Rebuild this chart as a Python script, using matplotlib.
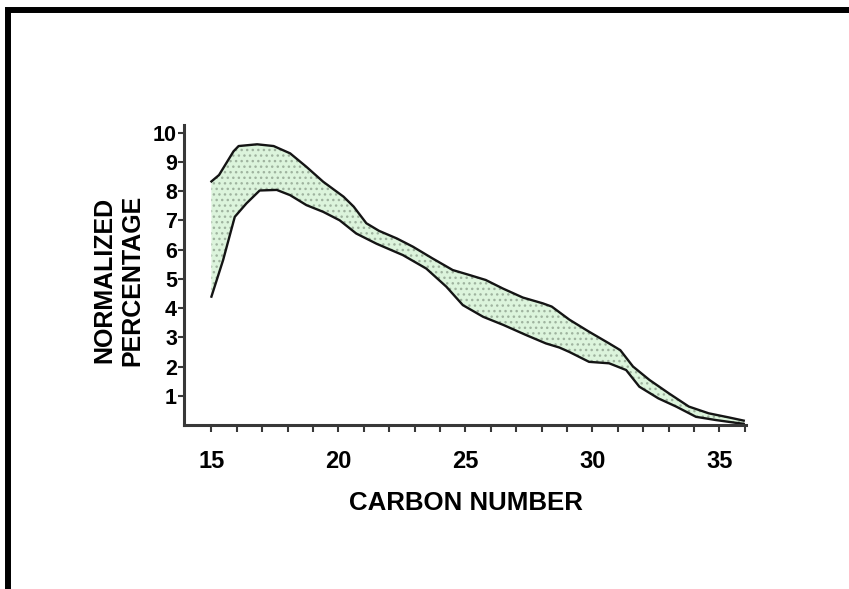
import matplotlib as mpl
mpl.use('Agg')
import matplotlib.pyplot as plt
from matplotlib.patches import Rectangle
import numpy as np

# upper edge of the band (carbon number, normalized %)
UPPER_X = [15.0, 15.3, 15.87, 16.07, 16.8, 17.45, 18.1, 18.74, 19.4, 20.2, 20.6,
           21.1, 21.6, 22.3, 22.93, 23.7, 24.5, 25.16, 25.8, 26.47, 27.26, 28.05,
           28.4, 29.1, 29.87, 30.66, 31.1, 31.6, 32.25, 33.0, 33.8, 34.58, 35.37, 35.96]
UPPER_Y = [8.33, 8.55, 9.36, 9.54, 9.6, 9.54, 9.29, 8.83, 8.32, 7.81, 7.47,
           6.9, 6.64, 6.38, 6.1, 5.7, 5.3, 5.13, 4.96, 4.67, 4.36, 4.16,
           4.05, 3.6, 3.19, 2.79, 2.56, 2.0, 1.54, 1.09, 0.63, 0.4, 0.26, 0.15]

# lower edge of the band
LOWER_X = [15.0, 15.46, 15.92, 16.38, 16.9, 17.57, 18.1, 18.74, 19.4, 20.05, 20.7,
           21.5, 22.54, 23.46, 24.25, 24.9, 25.7, 26.5, 27.38, 28.17, 28.7, 29.09,
           29.87, 30.66, 31.33, 31.85, 32.6, 33.3, 34.08, 34.86, 35.6, 35.96]
LOWER_Y = [4.39, 5.64, 7.12, 7.58, 8.02, 8.04, 7.86, 7.52, 7.29, 7.0, 6.55,
           6.2, 5.81, 5.35, 4.73, 4.1, 3.7, 3.42, 3.08, 2.79, 2.65, 2.5,
           2.16, 2.11, 1.88, 1.31, 0.91, 0.63, 0.28, 0.17, 0.08, 0.04]

X_TICKS = list(range(15, 37))
X_LABELS = [15, 20, 25, 30, 35]
Y_TICKS = list(range(1, 11))

X_LABEL = "CARBON NUMBER"
Y_LABEL = "NORMALIZED\nPERCENTAGE"

FONT = 'Liberation Sans'
FILL_COLOR = '#dcf4dc'
DOT_COLOR = '#9fb39f'
EDGE_COLOR = '#141414'
AXIS_COLOR = '#383838'

mpl.rcParams['hatch.linewidth'] = 1.0

fig = plt.figure(figsize=(8.49, 5.89), dpi=100)
ax = fig.add_axes([184 / 849, 164 / 589, 562 / 849, 300 / 589])

poly_x = np.concatenate([UPPER_X, LOWER_X[::-1]])
poly_y = np.concatenate([UPPER_Y, LOWER_Y[::-1]])
ax.fill(poly_x, poly_y, facecolor=FILL_COLOR, edgecolor=DOT_COLOR,
        hatch='...', linewidth=0)
ax.plot(UPPER_X, UPPER_Y, color=EDGE_COLOR, linewidth=1.7)
ax.plot(LOWER_X, LOWER_Y, color=EDGE_COLOR, linewidth=1.7)

ax.set_xlim(13.92, 36.05)
ax.set_ylim(0, 10.26)

for side in ['top', 'right']:
    ax.spines[side].set_visible(False)
for side in ['left', 'bottom']:
    ax.spines[side].set_linewidth(2.2)
    ax.spines[side].set_color(AXIS_COLOR)

ax.set_xticks(X_TICKS)
ax.set_xticklabels([str(t) if t in X_LABELS else '' for t in X_TICKS])
ax.set_yticks(Y_TICKS)
ax.set_yticklabels([str(t) for t in Y_TICKS])

ax.tick_params(axis='x', direction='out', length=5, width=1.5, color=AXIS_COLOR, pad=13)
ax.tick_params(axis='y', direction='out', length=4, width=1.5, color=AXIS_COLOR, pad=1)

for label in ax.get_xticklabels():
    label.set_fontsize(17)
    label.set_fontweight('bold')
    label.set_family(FONT)
for label in ax.get_yticklabels():
    label.set_fontsize(15.5)
    label.set_fontweight('bold')
    label.set_family(FONT)

fig.text(466 / 849, 1 - 503 / 589, X_LABEL, ha='center', va='center',
         fontsize=18.6, fontweight='bold', family=FONT)
fig.text(118 / 849, 1 - 280 / 589, Y_LABEL, ha='center', va='center',
         rotation=90, multialignment='center', linespacing=1.2,
         fontsize=18, fontweight='bold', family=FONT)

# page frame (only left and top edges are visible in the crop)
frame = Rectangle((8 / 849, -0.5), 2.0, 0.5 + 1 - 9.5 / 589,
                  transform=fig.transFigure, fill=False,
                  edgecolor='black', linewidth=4.3)
fig.patches.append(frame)

plt.savefig('out.png', dpi=100)
